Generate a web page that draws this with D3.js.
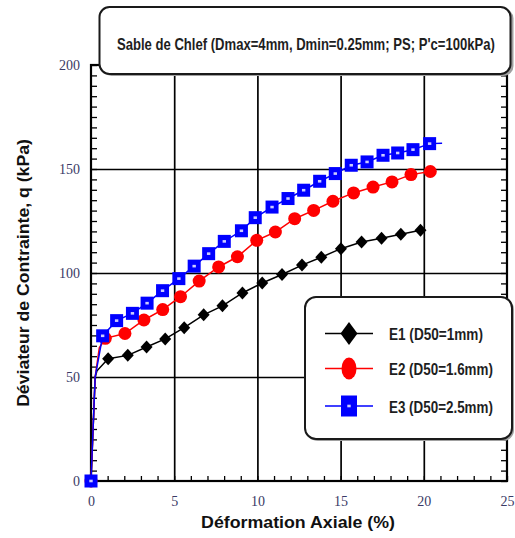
<!DOCTYPE html>
<html>
<head>
<meta charset="utf-8">
<script src="https://cdn.jsdelivr.net/npm/d3@7"></script>
<style>
  html, body { margin: 0; padding: 0; background: #fff; }
  svg { display: block; }
</style>
</head>
<body>
<svg id="chart" width="515" height="538"></svg>
<script>
// Triaxial test results: deviator stress vs axial strain, three gradings of Chlef sand
const seriesNames = ["E1 (D50=1mm)", "E2 (D50=1.6mm)", "E3 (D50=2.5mm)"];

// E1 (D50 = 1 mm)
const e1Strain = [0, 1.03, 2.21, 3.34, 4.46, 5.6, 6.77, 7.9, 9.1, 10.29, 11.48, 12.68, 13.84, 15.02, 16.26, 17.46, 18.62, 19.8];
const e1Q      = [0, 58.8, 60.4, 64.4, 68.3, 73.7, 79.9, 84.2, 90.4, 95.2, 99.3, 103.8, 107.6, 111.7, 114.9, 116.7, 118.6, 120.5];
const e1RiseStrain = [0.25, 0.36];
const e1RiseQ      = [50, 53];

// E2 (D50 = 1.6 mm)
const e2Strain = [0, 0.86, 2.04, 3.18, 4.31, 5.38, 6.5, 7.67, 8.8, 9.96, 11.08, 12.24, 13.38, 14.54, 15.78, 16.95, 18.09, 19.23, 20.39];
const e2Q      = [0, 68.6, 70.9, 77.4, 82.4, 88.6, 96.1, 102.9, 107.8, 115.7, 119.7, 126.1, 130.1, 134.5, 138.5, 141.3, 143.8, 147.3, 148.8];
const e2RiseStrain = [0.25, 0.5];
const e2RiseQ      = [50, 64];

// E3 (D50 = 2.5 mm)
const e3Strain = [0, 0.7, 1.54, 2.49, 3.37, 4.3, 5.28, 6.2, 7.07, 8.01, 9.04, 9.87, 10.88, 11.84, 12.78, 13.74, 14.68, 15.64, 16.59, 17.55, 18.43, 19.35, 20.35];
const e3Q      = [0, 69.8, 77.1, 80.6, 85.5, 91.5, 97.3, 103.3, 109.3, 115.2, 120.3, 126.6, 131.7, 135.8, 139.8, 144.1, 147.8, 151.8, 153.4, 156.6, 157.7, 159.3, 162.2];
const e3RiseStrain = [0.25];
const e3RiseQ      = [50];
const e3EndStrain = [21.1];
const e3EndQ      = [162.4];

// Axis ticks
const xTicks = [0, 5, 10, 15, 20, 25];
const yTicks = [0, 50, 100, 150, 200];
const xMinorTicks = d3.range(0, 25.01, 1);
const yMinorTicks = d3.range(0, 200.01, 5);

const titleText = "Sable de Chlef (Dmax=4mm, Dmin=0.25mm; PS; P'c=100kPa)";
const xLabel = "Déformation Axiale (%)";
const yLabel = "Déviateur de Contrainte, q (kPa)";

// ---------------------------------------------------------------
const svg = d3.select("#chart");
const plot = { left: 91, right: 507, top: 65, bottom: 481 };

const x = d3.scaleLinear().domain([0, 25]).range([plot.left, plot.right]);
const y = d3.scaleLinear().domain([0, 200]).range([plot.bottom, plot.top]);

const pts = (sx, sq) => sx.map((v, i) => [v, sq[i]]);
const series = [
  { name: seriesNames[0], color: "#000000", shape: "diamond",
    marks: pts(e1Strain, e1Q),
    line: [[e1Strain[0], e1Q[0]], ...pts(e1RiseStrain, e1RiseQ), ...pts(e1Strain, e1Q).slice(1)] },
  { name: seriesNames[1], color: "#ff0000", shape: "circle",
    marks: pts(e2Strain, e2Q),
    line: [[e2Strain[0], e2Q[0]], ...pts(e2RiseStrain, e2RiseQ), ...pts(e2Strain, e2Q).slice(1)] },
  { name: seriesNames[2], color: "#0000ff", shape: "square",
    marks: pts(e3Strain, e3Q),
    line: [[e3Strain[0], e3Q[0]], ...pts(e3RiseStrain, e3RiseQ), ...pts(e3Strain, e3Q).slice(1), ...pts(e3EndStrain, e3EndQ)] }
];

const tickColor = "#3a3a66";
const sansFont = "'Liberation Sans', Arial, sans-serif";
const serifFont = "'Liberation Serif', 'Times New Roman', serif";

// Grid lines at the labelled ticks
svg.append("g")
  .attr("transform", `translate(0,${plot.bottom})`)
  .call(d3.axisBottom(x).tickValues(xTicks.slice(1, -1)).tickSize(-(plot.bottom - plot.top)).tickFormat(""))
  .call(g => g.select(".domain").remove())
  .call(g => g.selectAll("line").attr("stroke", "#000").attr("stroke-width", 1.7));
svg.append("g")
  .attr("transform", `translate(${plot.left},0)`)
  .call(d3.axisLeft(y).tickValues(yTicks.slice(1, -1)).tickSize(-(plot.right - plot.left)).tickFormat(""))
  .call(g => g.select(".domain").remove())
  .call(g => g.selectAll("line").attr("stroke", "#000").attr("stroke-width", 1.7));

// Minor ticks pointing inward on left, right and bottom
function minor(g) {
  g.select(".domain").remove();
  g.selectAll("line").attr("stroke", "#000").attr("stroke-width", 1.3);
}
svg.append("g").attr("transform", `translate(${plot.left},0)`)
  .call(d3.axisLeft(y).tickValues(yMinorTicks).tickSize(-6).tickFormat("")).call(minor);
svg.append("g").attr("transform", `translate(${plot.right},0)`)
  .call(d3.axisRight(y).tickValues(yMinorTicks).tickSize(-6).tickFormat("")).call(minor);
svg.append("g").attr("transform", `translate(0,${plot.bottom})`)
  .call(d3.axisBottom(x).tickValues(xMinorTicks).tickSize(-5).tickFormat("")).call(minor);

// Frame
svg.append("rect")
  .attr("x", plot.left).attr("y", plot.top)
  .attr("width", plot.right - plot.left).attr("height", plot.bottom - plot.top)
  .attr("fill", "none").attr("stroke", "#000").attr("stroke-width", 2.2);

// Tick labels
svg.append("g").attr("transform", `translate(${plot.left},0)`)
  .call(d3.axisLeft(y).tickValues(yTicks).tickSize(0).tickPadding(11).tickFormat(d3.format("d")))
  .call(g => g.select(".domain").remove())
  .call(g => g.selectAll("text")
    .attr("font-family", serifFont).attr("font-size", 14).attr("fill", tickColor));
svg.append("g").attr("transform", `translate(0,${plot.bottom})`)
  .call(d3.axisBottom(x).tickValues(xTicks).tickSize(0).tickPadding(15).tickFormat(d3.format("d")))
  .call(g => g.select(".domain").remove())
  .call(g => g.selectAll("text")
    .attr("font-family", serifFont).attr("font-size", 14).attr("fill", tickColor));

// Stretch or squeeze a text element horizontally so it spans a given width
function fitWidth(sel, width, tx, ty, rot) {
  const w = sel.node().getComputedTextLength();
  const k = width / w;
  sel.attr("x", 0).attr("y", 0)
    .attr("transform", `translate(${tx},${ty})${rot ? ` rotate(${rot})` : ""} scale(${k},1)`);
}

// Axis titles
const xTitle = svg.append("text")
  .attr("text-anchor", "middle")
  .attr("font-family", sansFont)
  .attr("font-weight", "bold").attr("font-size", 16.5).attr("fill", "#111")
  .text(xLabel);
fitWidth(xTitle, 194, 298, 528);
const yTitle = svg.append("text")
  .attr("text-anchor", "middle")
  .attr("font-family", sansFont)
  .attr("font-weight", "bold").attr("font-size", 16.5).attr("fill", "#111")
  .text(yLabel);
fitWidth(yTitle, 268, 29, 273, -90);

// Marker shapes
function drawMarker(g, shape, color, w, h) {
  if (shape === "diamond") {
    g.append("path")
      .attr("d", `M0,${-h / 2}L${w / 2},0L0,${h / 2}L${-w / 2},0Z`)
      .attr("fill", color);
  } else if (shape === "circle") {
    g.append("ellipse").attr("rx", w / 2).attr("ry", h / 2).attr("fill", color);
  } else {
    g.append("rect")
      .attr("x", -w / 2).attr("y", -h / 2).attr("width", w).attr("height", h)
      .attr("fill", color);
    g.append("rect")
      .attr("x", -1.7).attr("y", -1.3).attr("width", 3.4).attr("height", 2.6)
      .attr("fill", "#fff").attr("opacity", 0.8);
  }
}

const lineGen = d3.line().x(d => x(d[0])).y(d => y(d[1]));
const markerSize = { diamond: [12, 13], circle: [13, 13], square: [13, 13] };

series.forEach(s => {
  const g = svg.append("g");
  g.append("path").datum(s.line)
    .attr("d", lineGen).attr("fill", "none")
    .attr("stroke", s.color).attr("stroke-width", 1.5);
  s.marks.forEach(p => {
    const m = g.append("g").attr("transform", `translate(${x(p[0])},${y(p[1])})`);
    drawMarker(m, s.shape, s.color, markerSize[s.shape][0], markerSize[s.shape][1]);
  });
});

// Title box
svg.append("rect")
  .attr("x", 101.5).attr("y", 8.5).attr("width", 412).attr("height", 67.5).attr("rx", 10)
  .attr("fill", "#a0a0a0");
svg.append("rect")
  .attr("x", 99.5).attr("y", 7).attr("width", 411).attr("height", 67).attr("rx", 10)
  .attr("fill", "#fff").attr("stroke", "#1a1a1a").attr("stroke-width", 2);
const title = svg.append("text")
  .attr("font-family", sansFont).attr("font-weight", "bold")
  .attr("font-size", 16).attr("fill", "#1e1e1e")
  .text(titleText);
fitWidth(title, 378, 117, 49.5);

// Legend box
const legend = svg.append("g");
legend.append("rect")
  .attr("x", 307).attr("y", 298.5).attr("width", 207).attr("height", 142.5).attr("rx", 11)
  .attr("fill", "#a0a0a0");
legend.append("rect")
  .attr("x", 305).attr("y", 297).attr("width", 207).attr("height", 142).attr("rx", 11)
  .attr("fill", "#fff").attr("stroke", "#1a1a1a").attr("stroke-width", 2);

const legendY = [333.5, 368.5, 406];
const legendSize = { diamond: [17, 23], circle: [15, 22], square: [16, 21] };
const legendTextWidth = [94, 104, 104];
series.forEach((s, i) => {
  const ly = legendY[i];
  legend.append("line")
    .attr("x1", 325).attr("x2", 373).attr("y1", ly).attr("y2", ly)
    .attr("stroke", s.color).attr("stroke-width", 1.6);
  const m = legend.append("g").attr("transform", `translate(349,${ly})`);
  drawMarker(m, s.shape, s.color, legendSize[s.shape][0], legendSize[s.shape][1]);
  const t = legend.append("text")
    .attr("font-family", sansFont).attr("font-weight", "bold")
    .attr("font-size", 16).attr("fill", "#1e1e1e")
    .text(s.name);
  fitWidth(t, legendTextWidth[i], 389, ly + 6.5);
});
</script>
</body>
</html>
